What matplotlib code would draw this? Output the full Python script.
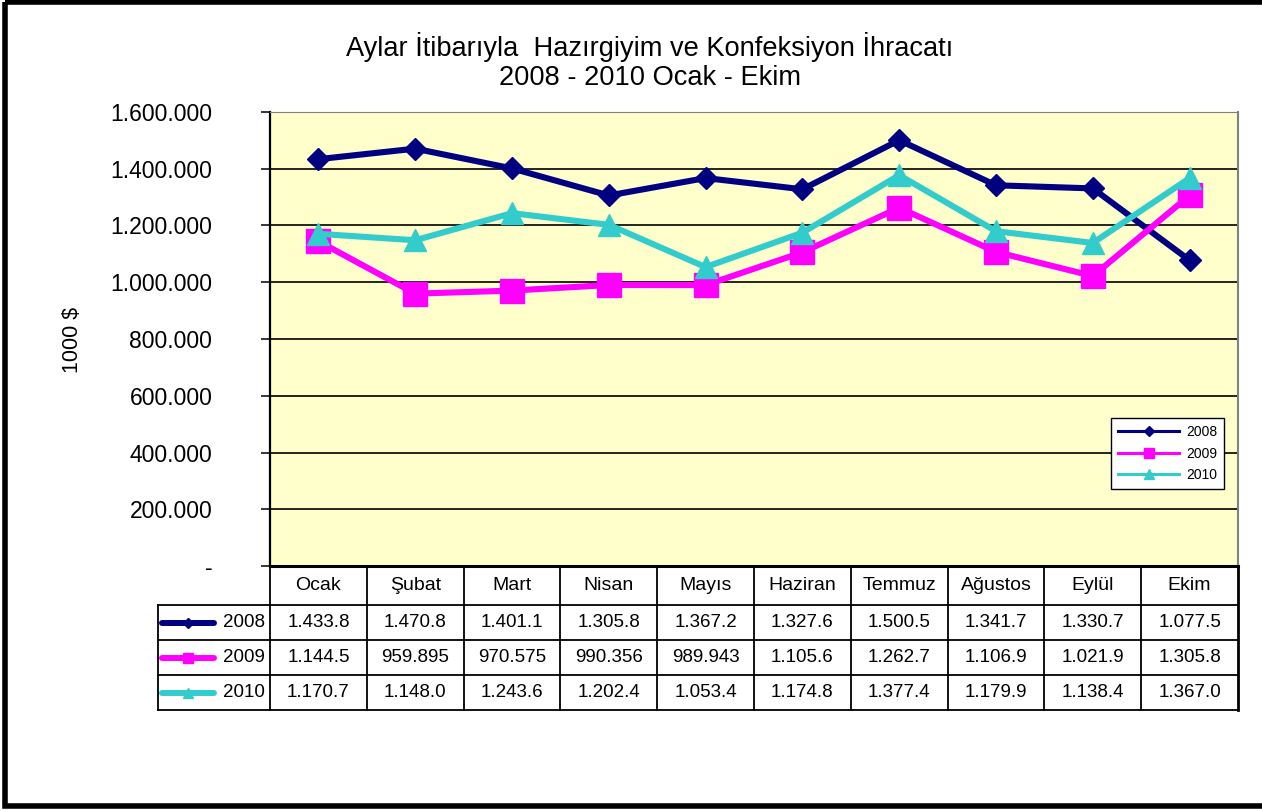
import matplotlib.pyplot as plt
import matplotlib.transforms as mtransforms
from matplotlib.lines import Line2D
from matplotlib.patches import Rectangle

plt.rcParams['font.family'] = ['Liberation Sans', 'DejaVu Sans']

# data (1000 $)
months = ['Ocak', 'Şubat', 'Mart', 'Nisan', 'Mayıs', 'Haziran', 'Temmuz', 'Ağustos', 'Eylül', 'Ekim']
years = ['2008', '2009', '2010']
exp_2008 = [1433800, 1470800, 1401100, 1305800, 1367200, 1327600, 1500500, 1341700, 1330700, 1077500]
exp_2009 = [1144500, 959895, 970575, 990356, 989943, 1105600, 1262700, 1106900, 1021900, 1305800]
exp_2010 = [1170700, 1148000, 1243600, 1202400, 1053400, 1174800, 1377400, 1179900, 1138400, 1367000]
series = [exp_2008, exp_2009, exp_2010]

yticks = [0, 200000, 400000, 600000, 800000, 1000000, 1200000, 1400000, 1600000]
ytick_labels = ['-', '200.000', '400.000', '600.000', '800.000', '1.000.000',
                '1.200.000', '1.400.000', '1.600.000']

colors = ['#000080', '#FF00FF', '#33CCCC']
markers = ['D', 's', '^']
msizes = [11.5, 17.5, 16.5]
leg_msizes = [5, 7, 7]


def cell_text(v):
    # excel style, as shown in the table under the chart
    if v >= 1000000:
        return '{}.{:03d}.{}'.format(v // 1000000, (v % 1000000) // 1000, (v % 1000) // 100)
    return '{}.{:03d}'.format(v // 1000, v % 1000)


W, H = 1262, 811
fig = plt.figure(figsize=(W / 100, H / 100), dpi=100)

# overlay in pixel coords for frame + table
ov = fig.add_axes([0, 0, 1, 1])
ov.set_xlim(0, W)
ov.set_ylim(H, 0)
ov.axis('off')
ov.add_patch(Rectangle((5, 2), W + 20, 804, fill=False, edgecolor='black', linewidth=4))

# main plot
L, T, R, B = 270, 112, 1238, 566
ax = fig.add_axes([L / W, 1 - B / H, (R - L) / W, (B - T) / H])
ax.set_facecolor('#FFFFCC')
x = list(range(len(months)))
for i in range(3):
    ax.plot(x, series[i], color=colors[i], linewidth=4.4, marker=markers[i],
            markersize=msizes[i], markeredgecolor=colors[i], zorder=3)

ax.set_xlim(-0.5, len(months) - 0.5)
ax.set_ylim(0, 1600000)
ax.set_yticks(yticks)
ax.set_yticklabels(ytick_labels, fontsize=16.5)
ax.tick_params(axis='y', direction='out', length=6.5, width=1.1, pad=35)
ax.set_xticks([])
for yv in yticks[1:-1]:
    ax.axhline(yv, color='black', linewidth=1.2, zorder=1)
ax.spines['left'].set_linewidth(1.6)
ax.spines['bottom'].set_linewidth(2.2)
ax.spines['top'].set_color('#808080')
ax.spines['right'].set_color('#808080')
ax.spines['right'].set_linewidth(1.5)

fig.text(72 / W, 1 - 340 / H, '1000 $', rotation=90, ha='center', va='center', fontsize=15.5)
fig.text(650 / W, 1 - 47 / H, 'Aylar İtibarıyla  Hazırgiyim ve Konfeksiyon İhracatı',
         ha='center', va='center', fontsize=19.6)
fig.text(650 / W, 1 - 78 / H, '2008 - 2010 Ocak - Ekim', ha='center', va='center', fontsize=19.6)

# legend
handles = [Line2D([], [], color=colors[i], linewidth=2.2, marker=markers[i],
                  markersize=leg_msizes[i]) for i in range(3)]
leg = ax.legend(handles, years, loc='upper left', bbox_to_anchor=(1111 / W, 1 - 418 / H),
                bbox_transform=fig.transFigure, fontsize=10, handlelength=4.4,
                labelspacing=0.55, fancybox=False, framealpha=1, edgecolor='black',
                borderpad=0.5, handletextpad=0.5, borderaxespad=0)
leg.get_frame().set_linewidth(1.0)

# data table under the chart
tr = mtransforms.blended_transform_factory(ax.transData, ov.transData)
rows_y = [566, 605, 640, 675, 710]
lab_left = 158
lw = 1.3
# horizontal lines
for yy in rows_y[1:]:
    ov.plot([lab_left, R], [yy, yy], color='black', linewidth=lw)
ov.plot([lab_left, lab_left], [rows_y[1], rows_y[-1]], color='black', linewidth=lw)
# vertical lines by category boundaries
for i in range(len(months) + 1):
    ov.plot([i - 0.5, i - 0.5], [rows_y[0], rows_y[-1]], color='black',
            linewidth=lw if i < len(months) else 2.0, transform=tr)
for i, m in enumerate(months):
    ov.text(i, (rows_y[0] + rows_y[1]) / 2, m, transform=tr, ha='center', va='center',
            fontsize=14)
for r in range(3):
    yc = (rows_y[r + 1] + rows_y[r + 2]) / 2
    ov.plot([162, 214], [yc, yc], color=colors[r], linewidth=4.3, solid_capstyle='round')
    ov.plot([188], [yc], color=colors[r], marker=markers[r], markersize=leg_msizes[r])
    ov.text(265, yc, years[r], ha='right', va='center', fontsize=13.5)
    for i in range(len(months)):
        ov.text(i, yc, cell_text(series[r][i]), transform=tr, ha='center', va='center',
                fontsize=13.5)

fig.savefig('out.png', dpi=100)
